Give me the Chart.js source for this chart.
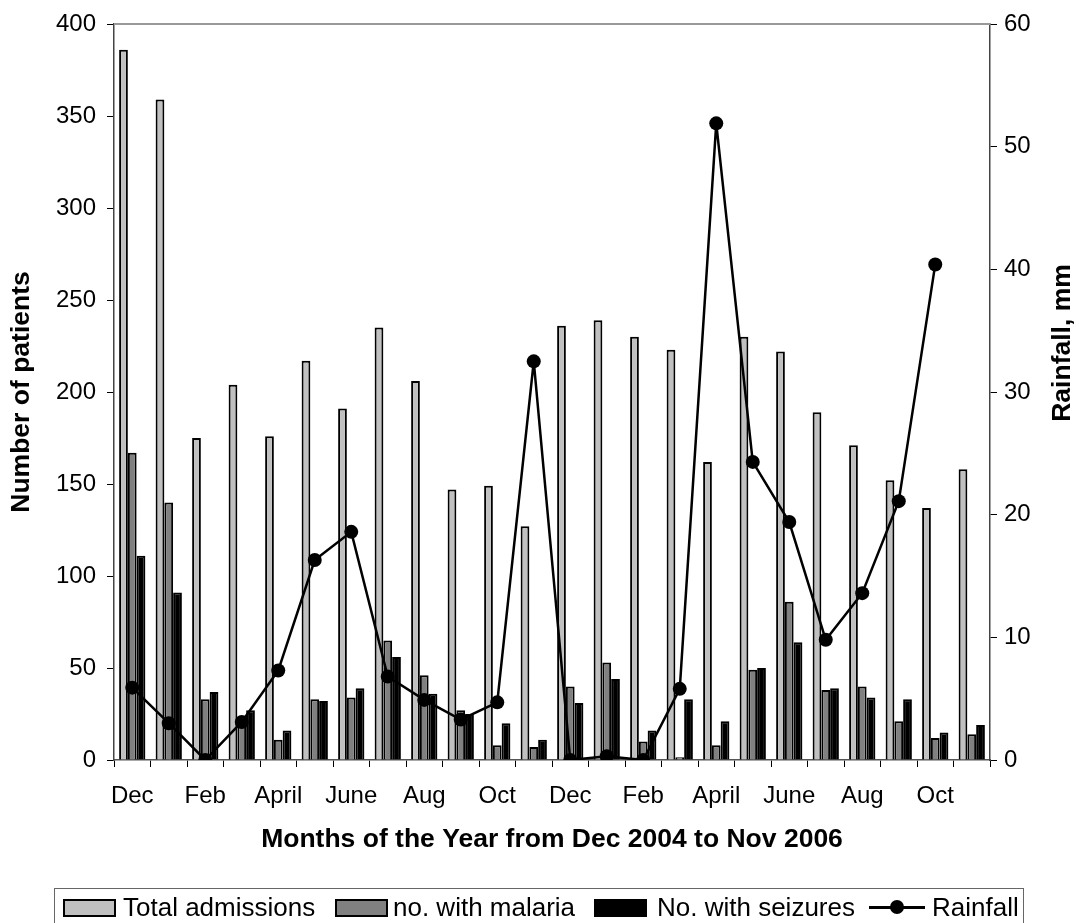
<!DOCTYPE html>
<html>
<head>
<meta charset="utf-8">
<script src="https://cdn.jsdelivr.net/npm/chart.js@4.4.1/dist/chart.umd.min.js"></script>
<style>
  body { margin: 0; background: #fff; font-family: "Liberation Sans", Arial, sans-serif; }
  #wrap { position: relative; width: 1079px; height: 923px; overflow: hidden; }
  #chart { position: absolute; left: 0; top: 0; }
  #legend { position: absolute; left: 54px; top: 888px; width: 970px; height: 50px;
            border: 1.5px solid #666; box-sizing: border-box; }
  .item { position: absolute; top: 3px; height: 30px; line-height: 30px; font-size: 26px; color: #000; white-space: nowrap; }
  .sw { position: absolute; top: 10px; width: 53px; height: 18px; border: 2px solid #000; box-sizing: border-box; }
  .ln { position: absolute; top: 17px; height: 2.5px; width: 56px; background: #000; }
  .dot { position: absolute; top: 11px; width: 14px; height: 14px; border-radius: 50%; background: #000; }
</style>
</head>
<body>
<div id="wrap">
  <canvas id="chart" width="1079" height="923"></canvas>
  <div id="legend"></div>
</div>
<script>
/*************************
 DATA
**************************/
const months = ["Dec", "Jan", "Feb", "Mar", "April", "May", "June", "July", "Aug", "Sept", "Oct", "Nov",
                "Dec", "Jan", "Feb", "Mar", "April", "May", "June", "July", "Aug", "Sept", "Oct", "Nov"];

const totalAdmissions = [386, 359, 175, 204, 176, 217, 191, 235, 206, 147, 149, 127,
                         236, 239, 230, 223, 162, 230, 222, 189, 171, 152, 137, 158];

const withMalaria = [167, 140, 33, 22, 11, 33, 34, 65, 46, 27, 8, 7,
                     40, 53, 10, 1.5, 8, 49, 86, 38, 40, 21, 12, 14];

const withSeizures = [111, 91, 37, 27, 16, 32, 39, 56, 36, 25, 20, 11,
                      31, 44, 16, 33, 21, 50, 64, 39, 34, 33, 15, 19];

const rainfall = [5.9, 3.0, 0, 3.1, 7.3, 16.3, 18.6, 6.8, 4.9, 3.3, 4.7, 32.5,
                  0, 0.3, 0, 5.8, 51.9, 24.3, 19.4, 9.8, 13.6, 21.1, 40.4, null];

const leftTicks = [0, 50, 100, 150, 200, 250, 300, 350, 400];
const rightTicks = [0, 10, 20, 30, 40, 50, 60];

/*************************
 STYLE
**************************/
const FONT = "'Liberation Sans', Arial, sans-serif";
const TICK_SIZE = 24;
const TITLE_SIZE = 26.5;

/*************************
 EXTRA DRAWING (top frame, right title)
**************************/
const framePlugin = {
  id: "frame",
  afterDraw(chart) {
    const { ctx, chartArea: a } = chart;
    ctx.save();
    ctx.strokeStyle = "#999";
    ctx.lineWidth = 2;
    ctx.beginPath();
    ctx.moveTo(a.left, a.top);
    ctx.lineTo(a.right, a.top);
    ctx.stroke();

    // right axis title, reads bottom-to-top like the left one
    ctx.translate(1063, 343);
    ctx.rotate(-Math.PI / 2);
    ctx.fillStyle = "#000";
    ctx.font = "bold " + TITLE_SIZE + "px " + FONT;
    ctx.textAlign = "center";
    ctx.textBaseline = "middle";
    ctx.fillText("Rainfall, mm", 0, 0);
    ctx.restore();
  }
};

// keep the plot top at the layout padding, not pushed down by tick labels
function fixVertical(width) {
  return (s) => { s.width = width; s.paddingTop = 10; s.paddingBottom = 10; };
}

/*************************
 CHART
**************************/
const ctx = document.getElementById("chart").getContext("2d");
const chart = new Chart(ctx, {
  type: "bar",
  data: {
    labels: months,
    datasets: [
      {
        type: "line",
        label: "Rainfall",
        data: rainfall,
        yAxisID: "y2",
        borderColor: "#000",
        backgroundColor: "#000",
        borderWidth: 2.5,
        pointRadius: 7,
        pointBackgroundColor: "#000",
        pointBorderWidth: 0,
        tension: 0,
        spanGaps: false,
        order: 0
      },
      {
        label: "Total admissions",
        data: totalAdmissions,
        yAxisID: "y",
        backgroundColor: "#c0c0c0",
        borderColor: "#000",
        borderWidth: 2,
        borderSkipped: "bottom",
        order: 1
      },
      {
        label: "no. with malaria",
        data: withMalaria,
        yAxisID: "y",
        backgroundColor: "#808080",
        borderColor: "#000",
        borderWidth: 2,
        borderSkipped: "bottom",
        order: 2
      },
      {
        label: "No. with seizures",
        data: withSeizures,
        yAxisID: "y",
        backgroundColor: "#000",
        borderColor: "#000",
        borderWidth: 2,
        borderSkipped: "bottom",
        order: 3
      }
    ]
  },
  options: {
    responsive: false,
    animation: false,
    layout: { padding: { top: 24, left: 0, right: 0, bottom: 0 } },
    datasets: { bar: { categoryPercentage: 0.72, barPercentage: 1.0 } },
    plugins: {
      legend: { display: false },
      tooltip: { enabled: false }
    },
    scales: {
      x: {
        offset: true,
        grid: { display: true, offset: true, drawOnChartArea: false, drawTicks: true, tickLength: 7, color: "#000", lineWidth: 1 },
        border: { display: true, color: "#555", width: 1.5 },
        ticks: {
          autoSkip: false, maxRotation: 0, minRotation: 0, padding: 15,
          color: "#000", font: { family: FONT, size: TICK_SIZE },
          callback: (v, i) => (i % 2 === 0 ? months[i] : "")
        },
        title: {
          display: true, text: "Months of the Year from Dec 2004 to Nov 2006",
          color: "#000", font: { family: FONT, size: TITLE_SIZE, weight: "bold" },
          padding: { top: 0, bottom: 67 }
        },
        afterFit: (s) => { s.height = 163; }
      },
      y: {
        position: "left",
        min: 0, max: 400,
        afterBuildTicks: (s) => { s.ticks = leftTicks.map(v => ({ value: v })); },
        grid: { display: true, drawOnChartArea: false, drawTicks: true, tickLength: 7, color: "#000" },
        border: { display: true, color: "#444", width: 1.5 },
        ticks: { color: "#000", padding: 11, font: { family: FONT, size: TICK_SIZE } },
        title: {
          display: true, text: "Number of patients",
          color: "#000", font: { family: FONT, size: TITLE_SIZE, weight: "bold" },
          padding: { top: 6, bottom: 0 }
        },
        afterFit: fixVertical(114)
      },
      y2: {
        position: "right",
        min: 0, max: 60,
        afterBuildTicks: (s) => { s.ticks = rightTicks.map(v => ({ value: v })); },
        grid: { display: true, drawOnChartArea: false, drawTicks: true, tickLength: 7, color: "#000" },
        border: { display: true, color: "#444", width: 1.5 },
        ticks: { color: "#000", padding: 7, font: { family: FONT, size: TICK_SIZE } },
        afterFit: fixVertical(89)
      }
    }
  },
  plugins: [framePlugin]
});

/*************************
 LEGEND (HTML)
**************************/
const legendItems = [
  { text: "Total admissions", kind: "box", color: "#c0c0c0", sw: 8, tx: 68 },
  { text: "no. with malaria", kind: "box", color: "#808080", sw: 280, tx: 338 },
  { text: "No. with seizures", kind: "box", color: "#000", sw: 539, tx: 602 },
  { text: "Rainfall", kind: "line", color: "#000", sw: 814, tx: 877 }
];
const legend = document.getElementById("legend");
legendItems.forEach(it => {
  if (it.kind === "box") {
    const b = document.createElement("div");
    b.className = "sw";
    b.style.left = it.sw + "px";
    b.style.background = it.color;
    legend.appendChild(b);
  } else {
    const l = document.createElement("div");
    l.className = "ln";
    l.style.left = it.sw + "px";
    legend.appendChild(l);
    const d = document.createElement("div");
    d.className = "dot";
    d.style.left = (it.sw + 21) + "px";
    legend.appendChild(d);
  }
  const t = document.createElement("div");
  t.className = "item";
  t.style.left = it.tx + "px";
  t.textContent = it.text;
  legend.appendChild(t);
});
</script>
</body>
</html>
